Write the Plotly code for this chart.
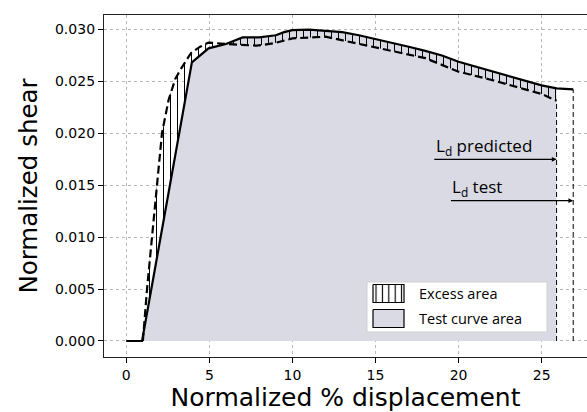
import plotly.graph_objects as go

# Test curve (solid)
test_x = [0, 0.95, 3.95, 4.95, 6.0, 7.0, 8.0, 9.0, 9.5, 10.0, 11.0, 12.0, 13.0, 14.0, 15.0, 16.0, 17.0,
          18.0, 19.0, 20.0, 21.0, 22.0, 23.0, 24.0, 25.0, 25.9, 26.9]
test_y = [0, 0, 0.0268, 0.02814, 0.02856, 0.0292, 0.0292, 0.0294, 0.0297, 0.0299, 0.02995, 0.02985, 0.0297,
          0.0294, 0.02905, 0.0287, 0.0283, 0.0279, 0.02745, 0.02686, 0.0264, 0.0259, 0.0255, 0.0250,
          0.02458, 0.0243, 0.0242]

# Predicted curve (dashed)
pred_x = [1.0, 1.25, 1.55, 1.84, 2.15, 2.55, 2.95, 3.3, 3.9, 4.45, 4.95, 6.0, 7.0, 7.85, 8.85, 10.0,
          12.0, 14.0, 15.0, 17.0, 18.0, 20.0, 22.0, 24.0, 25.0, 25.9]
pred_y = [0, 0.005, 0.010, 0.015, 0.020, 0.0232, 0.0252, 0.0262, 0.0277, 0.0283, 0.0287, 0.02856,
          0.02848, 0.0284, 0.02862, 0.0291, 0.02926, 0.02856, 0.02825, 0.0275, 0.0272, 0.0259,
          0.0251, 0.0242, 0.02375, 0.0231]

Ld_pred = 25.9
Ld_test = 26.9
arrow_pred = dict(x0=18.45, y=0.01747, label="L<sub>d</sub> predicted", ty=0.01875, tx=18.5)
arrow_test = dict(x0=19.45, y=0.01349, label="L<sub>d</sub> test", ty=0.01477, tx=19.5)

legend_labels = ["Excess area", "Test curve area"]

x_ticks = [0, 5, 10, 15, 20, 25]
y_ticks = [0.000, 0.005, 0.010, 0.015, 0.020, 0.025, 0.030]

GRAY = "#d9dae3"

tx_area = [x for x in test_x if x <= Ld_pred]
ty_area = test_y[:len(tx_area)]

fig = go.Figure()

# test curve area fill
fig.add_trace(go.Scatter(x=tx_area, y=ty_area, mode="lines", fill="tozeroy", fillcolor=GRAY,
                         line=dict(width=0, color=GRAY), showlegend=False, hoverinfo="skip"))
# excess area: helper base then hatch fill
fig.add_trace(go.Scatter(x=tx_area, y=ty_area, mode="lines", line=dict(width=0),
                         showlegend=False, hoverinfo="skip"))
fig.add_trace(go.Scatter(x=pred_x, y=pred_y, mode="lines", fill="tonexty",
                         fillcolor="rgba(0,0,0,0)",
                         fillpattern=dict(shape="|", size=7, solidity=0.15, fgcolor="black",
                                          bgcolor="rgba(0,0,0,0)", fillmode="replace"),
                         line=dict(width=0), showlegend=False, hoverinfo="skip"))

# vertical dashed lines
fig.add_trace(go.Scatter(x=[Ld_pred, Ld_pred], y=[0, pred_y[-1]], mode="lines",
                         line=dict(color="black", width=1, dash="5px,3px"), showlegend=False))
fig.add_trace(go.Scatter(x=[Ld_test, Ld_test], y=[0, test_y[-1]], mode="lines",
                         line=dict(color="black", width=1, dash="5px,3px"), showlegend=False))

# curves
fig.add_trace(go.Scatter(x=test_x, y=test_y, mode="lines",
                         line=dict(color="black", width=2.2), showlegend=False))
fig.add_trace(go.Scatter(x=pred_x, y=pred_y, mode="lines",
                         line=dict(color="black", width=2.2, dash="8px,4px"), showlegend=False))

# ---- custom legend drawn on an overlay axis measured in pixels ----
PX0, PX1, PY_BOT, PY_TOP = 104, 587, 357, 15
box = (367, 547, 282, 332)          # left, right, top, bottom (px)
icons = [(373, 404, 284.5, 302.5), (373, 404, 309.5, 327.5)]


def rect(l, r, t, b):
    return [l, r, r, l, l], [t, t, b, b, t]


bx, by = rect(*box)
fig.add_trace(go.Scatter(x=bx, y=by, xaxis="x2", yaxis="y2", mode="lines", fill="toself",
                         fillcolor="white", line=dict(color="#d0d0d0", width=1),
                         showlegend=False, hoverinfo="skip"))
ix, iy = rect(*icons[0])
fig.add_trace(go.Scatter(x=ix, y=iy, xaxis="x2", yaxis="y2", mode="lines", fill="toself",
                         fillcolor="white",
                         fillpattern=dict(shape="|", size=6.4, solidity=0.18, fgcolor="black",
                                          bgcolor="white", fillmode="replace"),
                         line=dict(color="black", width=1.2), showlegend=False, hoverinfo="skip"))
ix, iy = rect(*icons[1])
fig.add_trace(go.Scatter(x=ix, y=iy, xaxis="x2", yaxis="y2", mode="lines", fill="toself",
                         fillcolor=GRAY, line=dict(color="black", width=1.2),
                         showlegend=False, hoverinfo="skip"))
for (l, r, t, b), lab in zip(icons, legend_labels):
    fig.add_annotation(x=417, y=(t + b) / 2, xref="x2", yref="y2", text=lab, showarrow=False,
                       xanchor="left", yanchor="middle",
                       font=dict(family="Open Sans", size=14.5, color="black"))

for a, xe in ((arrow_pred, Ld_pred), (arrow_test, Ld_test)):
    fig.add_annotation(x=xe, y=a["y"], ax=a["x0"], ay=a["y"], xref="x", yref="y", axref="x", ayref="y",
                       text="", showarrow=True, arrowhead=2, arrowsize=0.8, arrowwidth=1.2,
                       arrowcolor="black", standoff=0, startstandoff=0)
    fig.add_annotation(x=a["tx"], y=a["ty"], xref="x", yref="y", text=a["label"], showarrow=False,
                       xanchor="left", yanchor="middle",
                       font=dict(family="Open Sans", size=17, color="black"))

fig.update_layout(
    width=587, height=412,
    margin=dict(l=PX0, r=0, t=PY_TOP, b=412 - PY_BOT),
    plot_bgcolor="white", paper_bgcolor="white",
    font=dict(family="DejaVu Sans", color="black"),
    showlegend=False,
    xaxis=dict(range=[-1.34, 27.73], tickvals=x_ticks, ticktext=[str(v) for v in x_ticks],
               showgrid=True, gridcolor="#b8b8b8", griddash="dot", gridwidth=1,
               showline=True, linecolor="#222", linewidth=1.3, mirror=True,
               ticks="outside", ticklen=5, tickcolor="black", tickfont=dict(size=14),
               zeroline=False,
               title=dict(text="Normalized % displacement", font=dict(size=25), standoff=4)),
    yaxis=dict(range=[-0.00154, 0.03135], tickvals=y_ticks,
               ticktext=[f"{v:.3f}" for v in y_ticks],
               showgrid=True, gridcolor="#b8b8b8", griddash="dot", gridwidth=1,
               showline=True, linecolor="#222", linewidth=1.3,
               ticks="outside", ticklen=5, tickcolor="black", tickfont=dict(size=14),
               zeroline=False,
               title=dict(text="Normalized shear", font=dict(size=24.5), standoff=10)),
    xaxis2=dict(overlaying="x", range=[PX0, PX1], visible=False, anchor="y2", fixedrange=True),
    yaxis2=dict(overlaying="y", range=[PY_BOT, PY_TOP], visible=False, anchor="x2", fixedrange=True),
)

fig.write_html("out.html")
